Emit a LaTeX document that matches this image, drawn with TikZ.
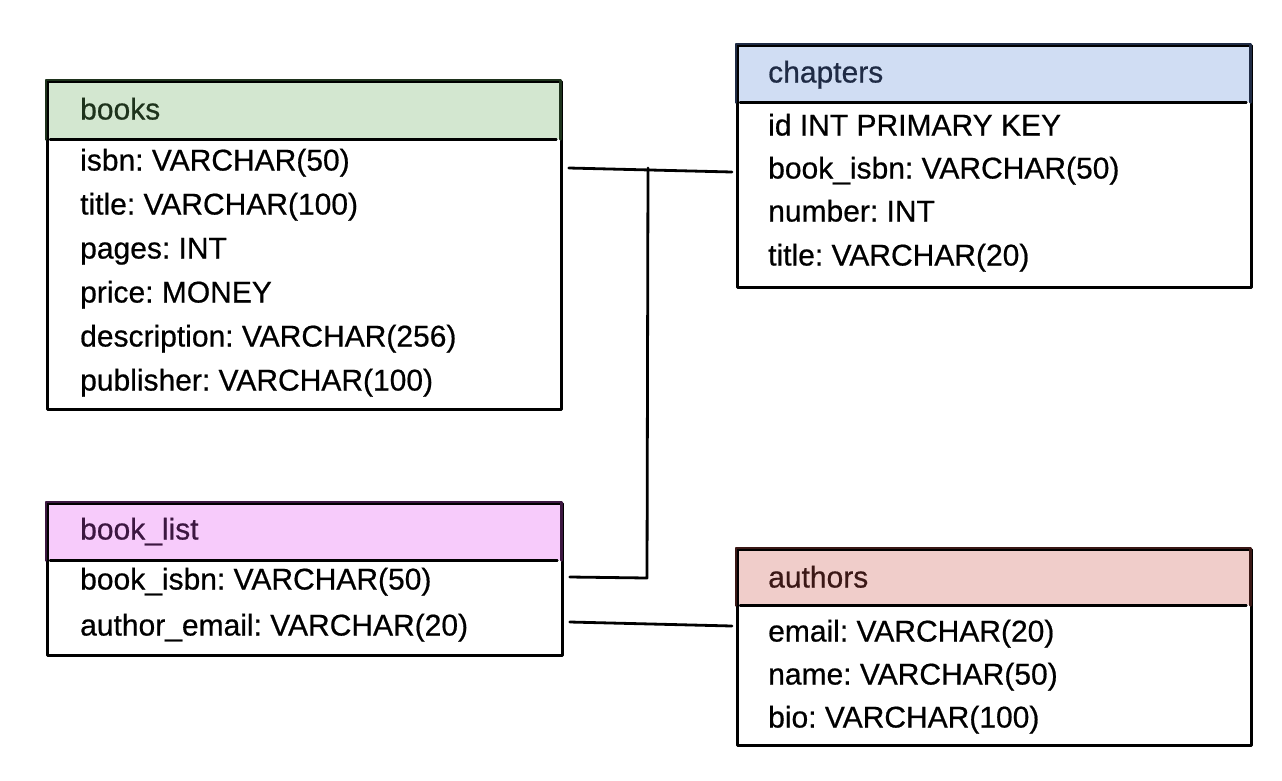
\documentclass[tikz,border=0pt]{standalone}
\usepackage{fontspec}
\setmainfont{Liberation Sans}[FakeBold=0.6]
\usetikzlibrary{calc}
\definecolor{gfill}{HTML}{D3E7D0}
\definecolor{gdark}{HTML}{1E331C}
\definecolor{bfill}{HTML}{D0DDF3}
\definecolor{bdark}{HTML}{1F2B45}
\definecolor{pfill}{HTML}{F7CBFB}
\definecolor{pdark}{HTML}{3C1741}
\definecolor{rfill}{HTML}{F0CDCA}
\definecolor{rdark}{HTML}{3B1816}
\begin{document}
\frenchspacing
\begin{tikzpicture}[x=1pt,y=-1pt,
  hdr/.style={fill=#1, draw=none, anchor=north west, inner sep=0pt},
  tbl/.style={draw=black, line width=2.8pt, line join=round, anchor=north west, inner sep=0pt},
  hdredge/.style={draw=#1, line width=2.8pt, line join=round, line cap=round},
  sepline/.style={draw=black, line width=2.2pt, line cap=round},
  rowtxt/.style={anchor=west, inner sep=0pt, font=\fontsize{30}{35}\selectfont, text height=21pt, text depth=6pt, text=black},
  titletxt/.style={rowtxt, text=#1},
  conn/.style={draw=black, line width=2.8pt, line cap=round, line join=round}
]
\useasboundingbox (0,0) rectangle (1282,780);

% ---------- books ----------
\node[hdr=gfill, minimum width=514pt, minimum height=59pt] (booksh) at (46,80) {};
\node[tbl, minimum width=514pt, minimum height=328pt] (books) at (46,80) {};
\draw[hdredge=gdark] (booksh.south west) -- (booksh.north west) -- (booksh.north east) -- (booksh.south east);
\draw[sepline] ([xshift=4pt]booksh.south west) -- ([xshift=-4pt]booksh.south east);
\node[titletxt=gdark] (bookst) at (80,112) {books};
\node[rowtxt] (b1) at (80,163) {isbn: VARCHAR(50)};
\node[rowtxt] (b2) at (80,207) {title: VARCHAR(100)};
\node[rowtxt] (b3) at (80,251) {pages: INT};
\node[rowtxt] (b4) at (80,295) {price: MONEY};
\node[rowtxt] (b5) at (80,339) {description: VARCHAR(256)};
\node[rowtxt] (b6) at (80,383) {publisher: VARCHAR(100)};

% ---------- chapters ----------
\node[hdr=bfill, minimum width=514pt, minimum height=58pt] (chaph) at (736,44) {};
\node[tbl, minimum width=514pt, minimum height=242pt] (chapters) at (736,44) {};
\draw[hdredge=bdark] (chaph.south west) -- (chaph.north west) -- (chaph.north east) -- (chaph.south east);
\draw[sepline] ([xshift=4pt]chaph.south west) -- ([xshift=-4pt]chaph.south east);
\node[titletxt=bdark] (chapt) at (768,75) {chapters};
\node[rowtxt] (c1) at (768,128) {id INT PRIMARY KEY};
\node[rowtxt] (c2) at (768,171) {book\_isbn: VARCHAR(50)};
\node[rowtxt] (c3) at (768,214) {number: INT};
\node[rowtxt] (c4) at (768,258) {title: VARCHAR(20)};

% ---------- book_list ----------
\node[hdr=pfill, minimum width=515pt, minimum height=58pt] (listh) at (46,502) {};
\node[tbl, minimum width=515pt, minimum height=152pt] (booklist) at (46,502) {};
\draw[hdredge=pdark] (listh.south west) -- (listh.north west) -- (listh.north east) -- (listh.south east);
\draw[sepline] ([xshift=4pt]listh.south west) -- ([xshift=-4pt]listh.south east);
\node[titletxt=pdark] (listt) at (80,532) {book\_list};
\node[rowtxt] (l1) at (80,582) {book\_isbn: VARCHAR(50)};
\node[rowtxt] (l2) at (80,628) {author\_email: VARCHAR(20)};

% ---------- authors ----------
\node[hdr=rfill, minimum width=514pt, minimum height=57pt] (authh) at (736,548) {};
\node[tbl, minimum width=514pt, minimum height=196pt] (authors) at (736,548) {};
\draw[hdredge=rdark] (authh.south west) -- (authh.north west) -- (authh.north east) -- (authh.south east);
\draw[sepline] ([xshift=4pt]authh.south west) -- ([xshift=-4pt]authh.south east);
\node[titletxt=rdark] (autht) at (768,580) {authors};
\node[rowtxt] (a1) at (768,634) {email: VARCHAR(20)};
\node[rowtxt] (a2) at (768,677) {name: VARCHAR(50)};
\node[rowtxt] (a3) at (768,720) {bio: VARCHAR(100)};

% ---------- connectors ----------
\coordinate (jt) at (648,168);
\coordinate (jb) at (647,578);
\draw[conn] ([xshift=6pt,yshift=-5pt]books.east |- b1) -- ([xshift=-4pt,yshift=-1pt]chapters.west |- c2);
\draw[conn] (jt) -- (jb) -- ([xshift=6pt,yshift=5pt]booklist.east |- l1);
\draw[conn] ([xshift=6pt,yshift=6pt]booklist.east |- l2) -- ([xshift=-4pt,yshift=8pt]authors.west |- a1);
\end{tikzpicture}
\end{document}
